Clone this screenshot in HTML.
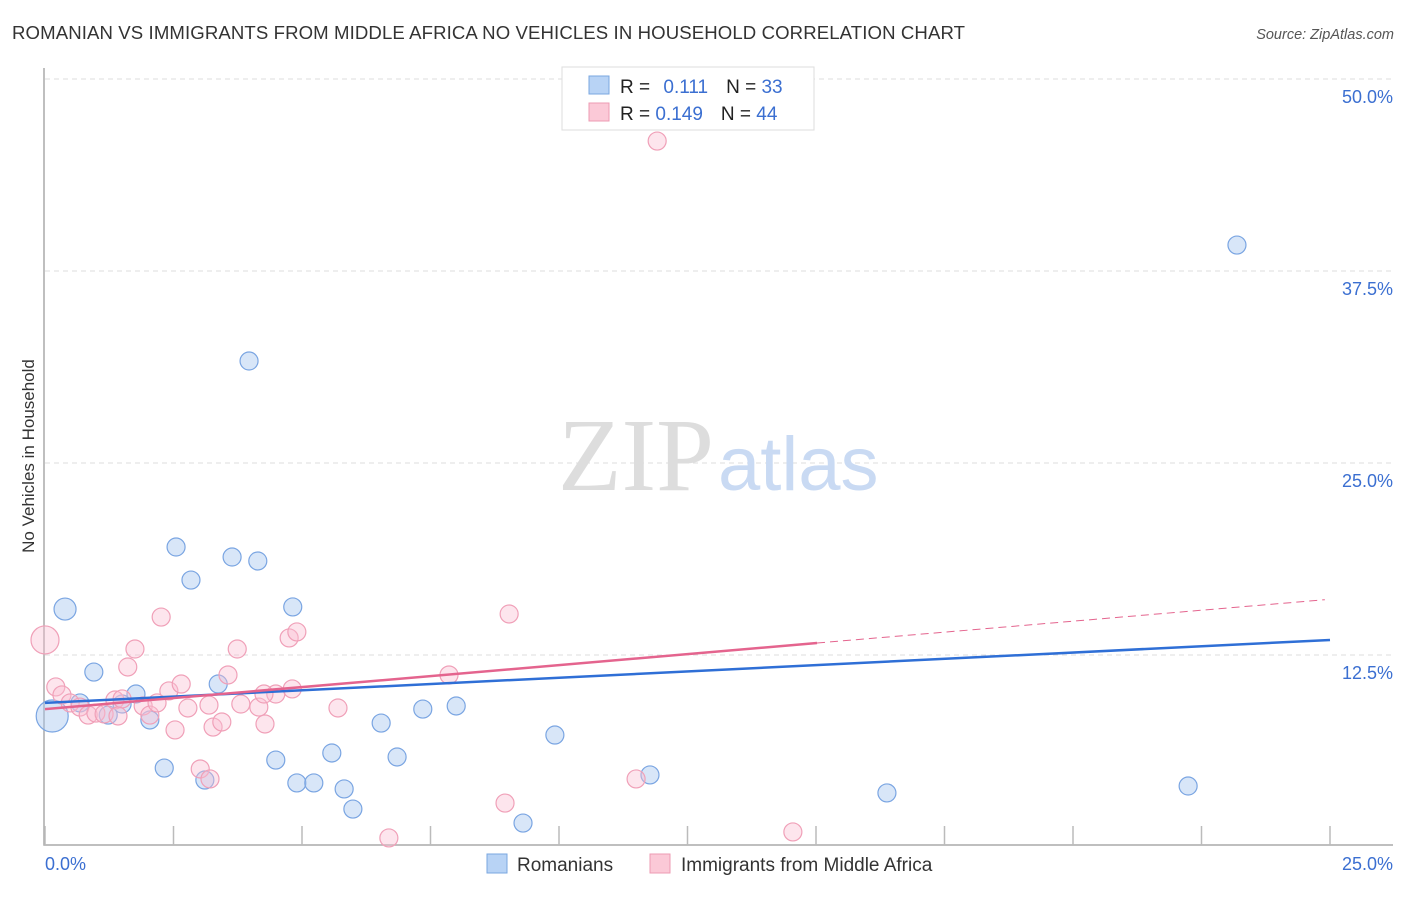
<!DOCTYPE html>
<html><head><meta charset="utf-8"><style>
body{margin:0;background:#fff;font-family:"Liberation Sans",sans-serif}
</style></head><body>
<svg width="1406" height="892" xmlns="http://www.w3.org/2000/svg">
<text x="12" y="39" font-size="18.6" fill="#333" textLength="953">ROMANIAN VS IMMIGRANTS FROM MIDDLE AFRICA NO VEHICLES IN HOUSEHOLD CORRELATION CHART</text>
<text x="1394" y="39" font-size="14.5" fill="#555" font-style="italic" text-anchor="end">Source: ZipAtlas.com</text>
<g id="grid"></g>
<text x="714" y="490" font-size="104" fill="#ddd" font-family="Liberation Serif" text-anchor="end">ZIP</text>
<text x="718" y="490" font-size="76" fill="#c9daf3">atlas</text>
<g id="marks"></g>
<text transform="translate(34,456) rotate(-90)" font-size="17" fill="#333" text-anchor="middle">No Vehicles in Household</text>
<g>
<rect x="562" y="67" width="252" height="63" fill="#fff" stroke="#ddd"/>
<rect x="589" y="76" width="20" height="18" fill="#b8d3f5" stroke="#7aa7e0"/>
<rect x="589" y="103" width="20" height="18" fill="#fbc9d7" stroke="#ee9bb3"/>
<text x="620" y="93" font-size="19" fill="#222">R = <tspan fill="#3b6fd1" dx="8">0.111</tspan><tspan dx="18" fill="#222">N = </tspan><tspan fill="#3b6fd1">33</tspan></text>
<text x="620" y="120" font-size="19" fill="#222">R = <tspan fill="#3b6fd1">0.149</tspan><tspan dx="18" fill="#222">N = </tspan><tspan fill="#3b6fd1">44</tspan></text>
</g>
<g>
<rect x="487" y="854" width="20" height="19" fill="#b8d3f5" stroke="#7aa7e0"/>
<text x="517" y="871" font-size="19" fill="#333">Romanians</text>
<rect x="650" y="854" width="20" height="19" fill="#fbc9d7" stroke="#ee9bb3"/>
<text x="681" y="871" font-size="19" fill="#333">Immigrants from Middle Africa</text>
</g>
</svg>
<script>
const xTicks=[0,2.5,5,7.5,10,12.5,15,17.5,20,22.5,25];
const yTicks=[12.5,25,37.5,50];
const yTickLabels=["12.5%","25.0%","37.5%","50.0%"];
const blueX=[0.14,0.39,0.95,0.68,1.23,1.50,1.77,2.04,2.55,2.84,2.32,3.11,3.37,3.64,4.14,3.97,4.49,4.82,4.90,5.23,5.58,5.82,5.99,6.54,6.85,7.35,8.00,9.30,9.92,11.77,16.38,22.24,23.19];
const blueY=[8.53,15.49,11.39,9.38,8.59,9.31,9.96,8.27,19.53,17.38,5.14,4.36,10.61,18.88,18.62,31.64,5.66,15.63,4.17,4.17,6.12,3.78,2.47,8.07,5.86,8.98,9.18,1.56,7.29,4.69,3.52,3.97,39.19];
const blueR=[16,11,9,9,9,9,9,9,9,9,9,9,9,9,9,9,9,9,9,9,9,9,9,9,9,9,9,9,9,9,9,9,9];
const pinkX=[0,0.21,0.33,0.49,0.68,0.84,0.99,1.15,1.36,1.50,1.61,1.75,1.91,2.04,2.18,2.26,2.41,2.65,2.78,3.02,3.21,3.19,3.27,3.44,3.56,3.74,3.81,4.16,4.28,4.49,4.75,4.81,4.90,5.70,6.69,7.86,8.95,9.03,11.50,11.91,14.55,2.53,1.42,4.26];
const pinkY=[13.48,10.42,9.90,9.38,9.11,8.59,8.72,8.66,9.57,9.64,11.72,12.89,9.18,8.59,9.38,14.97,10.16,10.61,9.05,5.08,4.43,9.24,7.81,8.14,11.20,12.89,9.31,9.11,8.01,9.96,13.61,10.29,14.00,9.05,0.59,11.20,2.86,15.17,4.43,45.96,0.98,7.62,8.53,9.96];
const blueLine=[[0,9.38],[25,13.48]];
const pinkLine=[[0,8.98],[15.02,13.28]];
const pinkDash=[[15.02,13.28],[24.9,16.1]];
const X=v=>45+v/25*1285, Y=v=>847-v/12.5*192;
const NS="http://www.w3.org/2000/svg";
function mk(t,a,p){const e=document.createElementNS(NS,t);for(const k in a)e.setAttribute(k,a[k]);p.appendChild(e);return e;}
const g=document.getElementById('grid'), m=document.getElementById('marks');
yTicks.forEach((v,i)=>{
 const l=mk('line',{x1:45,x2:1393,y1:Y(v),y2:Y(v),stroke:'#ddd','stroke-dasharray':'5,4'},g);
 
 
 const t=mk('text',{x:1393,y:Y(v)+24,'font-size':18,fill:'#3b6fd1','text-anchor':'end'},g);
 t.textContent=yTickLabels[i];
 
 
});
const ax=mk('path',{d:'M44,68 V845 H1393',stroke:'#aaa',fill:'none','stroke-width':1.5},g);


xTicks.forEach(v=>{const l=mk('line',{x1:X(v),x2:X(v),y1:826,y2:845,stroke:'#bbb','stroke-width':1.5},g);
 
 });
[[0,'0.0%','start',45],[25,'25.0%','end',1393]].forEach(a=>{const t=mk('text',{x:a[3],y:870,'font-size':18,fill:'#3b6fd1','text-anchor':a[2]},g);t.textContent=a[1];
 
 });
blueX.forEach((v,i)=>{const c=mk('circle',{cx:X(v),cy:Y(blueY[i]),r:blueR[i],fill:'rgba(168,200,240,0.45)',stroke:'#7aa5e2','stroke-width':1.2},m);
 
 });
pinkX.forEach((v,i)=>{const c=mk('circle',{cx:X(v),cy:Y(pinkY[i]),r:i==0?14:9,fill:'rgba(250,190,210,0.4)',stroke:'#f0a0b8','stroke-width':1.2},m);
 
 });
const lb=mk('line',{x1:X(blueLine[0][0]),y1:Y(blueLine[0][1]),x2:X(blueLine[1][0]),y2:Y(blueLine[1][1]),stroke:'#2f6fd6','stroke-width':2.5},m);


const lp=mk('line',{x1:X(pinkLine[0][0]),y1:Y(pinkLine[0][1]),x2:X(pinkLine[1][0]),y2:Y(pinkLine[1][1]),stroke:'#e4648e','stroke-width':2.5},m);


const ld=mk('line',{x1:X(pinkDash[0][0]),y1:Y(pinkDash[0][1]),x2:X(pinkDash[1][0]),y2:Y(pinkDash[1][1]),stroke:'#e4648e','stroke-width':1,'stroke-dasharray':'8,5'},m);


</script>
</body></html>
